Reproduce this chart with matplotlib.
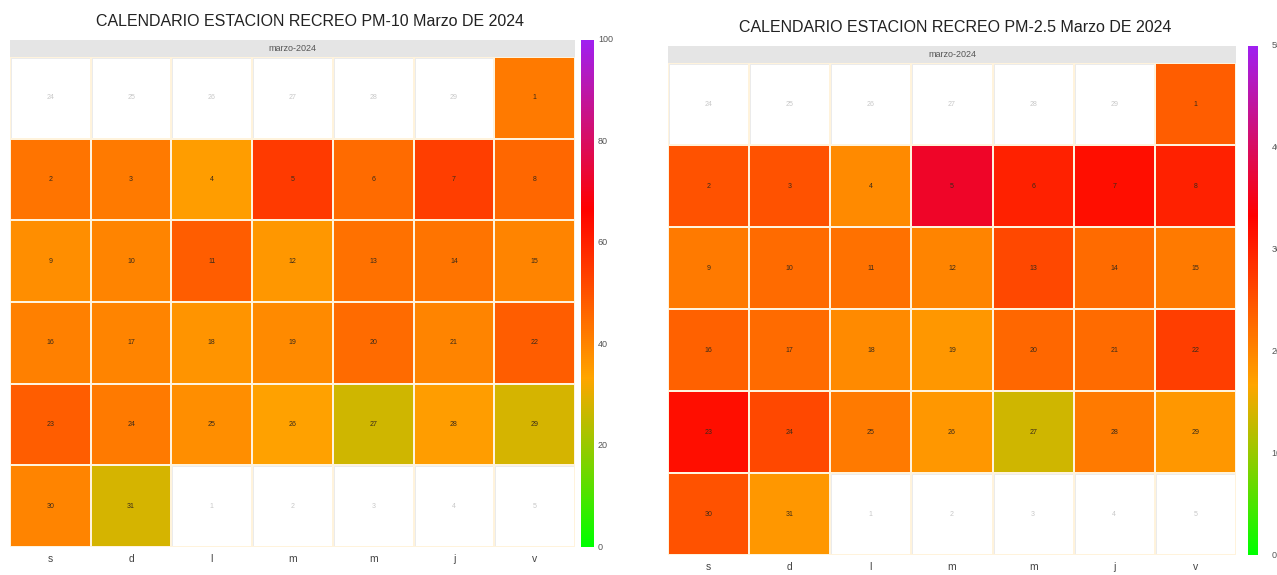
import numpy as np
import matplotlib.pyplot as plt
from matplotlib.colors import LinearSegmentedColormap, Normalize, ListedColormap
import matplotlib as mpl

plt.rcParams['font.family'] = ['Liberation Sans', 'DejaVu Sans']

# ---------------- data ----------------
weekdays = ['s', 'd', 'l', 'm', 'm', 'j', 'v']
month_label = 'marzo-2024'
prev_days = [24, 25, 26, 27, 28, 29]
next_days = [1, 2, 3, 4, 5]
march_days = list(range(1, 32))

pm10 = [42,
        43, 42, 35, 55, 45, 54, 46,
        38, 40, 48, 36, 44, 43, 40,
        41, 40, 37, 39, 45, 40, 48,
        48, 42, 38, 34, 27, 35, 28,
        40, 28]
pm25 = [24,
        25, 25, 19.5, 36, 30, 32, 30,
        21, 22.5, 22, 20, 26, 22.5, 21,
        23.5, 22.5, 19.5, 18, 23, 22.5, 27,
        32, 26, 21, 18, 13.6, 21, 18,
        25, 18]

title10 = 'CALENDARIO ESTACION RECREO PM-10 Marzo DE 2024'
title25 = 'CALENDARIO ESTACION RECREO PM-2.5 Marzo DE 2024'
ticks10 = [0, 20, 40, 60, 80, 100]
ticks25 = [0, 10, 20, 30, 40, 50]

cmap = LinearSegmentedColormap.from_list('heat', ['#00FF00', '#FFA500', '#FF0000', '#A020F0'])

W, H = 1277, 575
fig = plt.figure(figsize=(W / 100, H / 100), dpi=100)


def px_axes(x0, y0, x1, y1):
    return fig.add_axes([x0 / W, 1 - y1 / H, (x1 - x0) / W, (y1 - y0) / H])


def calendar(box, strip_h, cbox, values, vmax, ticks, title, title_xy, tick_x):
    x0, y0, x1, y1 = box
    # strip
    sax = px_axes(x0, y0, x1, y0 + strip_h)
    sax.set_facecolor('#E5E5E5')
    sax.set_xticks([]); sax.set_yticks([])
    for s in sax.spines.values():
        s.set_visible(False)
    sax.text(0.5, 0.5, month_label, ha='center', va='center', fontsize=6.5, color='#555555',
             transform=sax.transAxes)
    ax = px_axes(x0, y0 + strip_h, x1, y1)
    grid = np.full((6, 7), np.nan)
    labels = {}
    for i, d in enumerate(prev_days):
        labels[(0, i)] = (d, False)
    off = len(prev_days)
    for d, v in zip(march_days, values):
        idx = d - 1 + off
        r, c = divmod(idx, 7)
        grid[r, c] = v
        labels[(r, c)] = (d, True)
    for j, d in enumerate(next_days):
        idx = off + len(march_days) + j
        r, c = divmod(idx, 7)
        labels[(r, c)] = (d, False)
    xs = np.arange(8)
    ys = np.arange(7)
    ax.pcolormesh(xs, ys, np.zeros((6, 7)), cmap=ListedColormap(['white']),
                  edgecolors='#EBEBEB', linewidth=0.8)
    ax.pcolormesh(xs, ys, np.ma.masked_invalid(grid), cmap=cmap,
                  norm=Normalize(0, vmax), edgecolors='#FFF3DC', linewidth=1.2)
    for (r, c), (d, inmonth) in labels.items():
        ax.text(c + 0.5, r + 0.5, str(d), ha='center', va='center', fontsize=5,
                color='#3A2A1A' if inmonth else '#C8C8C8')
    ax.set_xlim(0, 7)
    ax.set_ylim(6, 0)
    ax.set_xticks(np.arange(7) + 0.5)
    ax.set_xticklabels(weekdays, fontsize=7.5, color='#444444')
    ax.set_yticks([])
    ax.tick_params(axis='x', length=0, pad=5)
    for s in ax.spines.values():
        s.set_visible(False)
    # colorbar
    cax = px_axes(*cbox)
    cb = mpl.colorbar.ColorbarBase(cax, cmap=cmap, norm=Normalize(0, vmax), orientation='vertical')
    cb.outline.set_visible(False)
    cb.set_ticks([])
    cax.set_ylim(0, vmax)
    for t in ticks:
        cax.text(tick_x, t, str(t), transform=cax.get_yaxis_transform(), fontsize=6.5,
                 color='#555555', ha='left', va='center')
    fig.text(title_xy[0] / W, 1 - title_xy[1] / H, title, ha='center', va='center',
             fontsize=11.5, color='#222222')


# left
calendar((10, 40, 575, 547), 17, (581, 40, 594, 547), pm10, 100, ticks10, title10,
         (310, 21), 1.3)
# right
calendar((668, 46, 1236, 555), 17, (1248, 46, 1258, 555), pm25, 50, ticks25, title25,
         (955, 28), 2.35)

fig.savefig('out.png', dpi=100, facecolor='white')
